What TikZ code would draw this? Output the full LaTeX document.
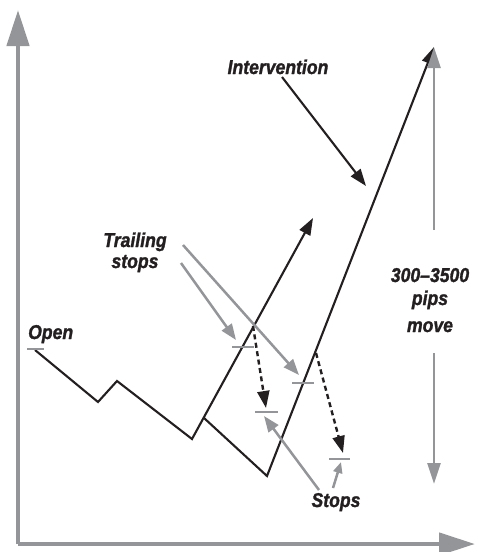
\documentclass[tikz,border=0pt]{standalone}
\usepackage{fontspec}
\setmainfont{Liberation Sans}[FakeStretch=0.88, BoldItalicFeatures={FakeBold=1.4}]
\usetikzlibrary{arrows.meta}
\definecolor{axgray}{HTML}{939598}
\definecolor{ink}{HTML}{231F20}
\begin{document}
\begin{tikzpicture}[x=1pt,y=-1pt,
  lbl/.style={font=\fontsize{20}{24}\selectfont\bfseries\itshape, inner sep=0pt, anchor=base, text=ink},
  axis/.style={draw=axgray, line width=4.5pt, -{Triangle[length=36pt,width=22pt]}},
  price/.style={draw=ink, line width=2.1pt, line join=miter},
  blkarrow/.style={price, -{Triangle[length=17pt,width=12pt]}},
  dasharrow/.style={draw=ink, line width=2.4pt, dash pattern=on 5pt off 3.5pt, -{Triangle[length=17pt,width=12pt]}},
  grayarrow/.style={draw=axgray, line width=2.5pt, -{Triangle[length=16pt,width=12pt]}},
  rangearrow/.style={draw=axgray, line width=2.6pt, -{Triangle[length=21pt,width=13pt]}},
  tick/.style={draw=axgray, line width=2.8pt}
]
\useasboundingbox (0,0) rectangle (477,552);

% axes
\coordinate (origin) at (18,544);
\coordinate (ytop) at (18,10);
\coordinate (xend) at (475,544);
\draw[axis] (origin) -- (ytop);
\draw[axis] (origin) -- (xend);

% price path 1
\coordinate (p0) at (35,350);
\coordinate (p1) at (98,402);
\coordinate (p2) at (117,381);
\coordinate (p3) at (192,439);
\coordinate (p4) at (204,418);
\coordinate (p5) at (313,218);
\draw[blkarrow] (p0) -- (p1) -- (p2) -- (p3) -- (p5);

% price path 2
\coordinate (q1) at (267,476);
\coordinate (q2) at (434,47);
\draw[blkarrow] (p4) -- (q1) -- (q2);

% range arrows
\coordinate (rup0) at (434,230);
\coordinate (rup1) at (434,47);
\coordinate (rdn0) at (434,353);
\coordinate (rdn1) at (434,484);
\draw[rangearrow] (rup0) -- (rup1);
\draw[rangearrow] (rdn0) -- (rdn1);

% ticks
\draw[tick] (27,349) coordinate (o0) -- (44,349) coordinate (o1);
\draw[tick] (232,347) coordinate (t1a) -- (254,347) coordinate (t1b);
\draw[tick] (292,383) coordinate (t2a) -- (314,383) coordinate (t2b);
\draw[tick] (255,412) coordinate (t3a) -- (278,412) coordinate (t3b);
\draw[tick] (329,459) coordinate (t4a) -- (350,459) coordinate (t4b);

% dashed stop moves
\coordinate (d1a) at (253,326);
\coordinate (d1b) at (266,408);
\coordinate (d2a) at (316,353);
\coordinate (d2b) at (343,453);
\draw[dasharrow] (d1a) -- (d1b);
\draw[dasharrow] (d2a) -- (d2b);

% labels
\node[lbl] (intervention) at (278,74) {Intervention};
\node[lbl] (trailing) at (135,247) {Trailing};
\node[lbl] (stops1) at (135,268) {stops};
\node[lbl, anchor=base west] (open) at (28,339) {Open};
\node[lbl] (range1) at (430,282) {300–3500};
\node[lbl] (range2) at (430,305) {pips};
\node[lbl] (range3) at (430,332) {move};
\node[lbl] (stops2) at (336,507) {Stops};

% intervention arrow
\coordinate (i0) at (282,77);
\coordinate (i1) at (366,186);
\draw[blkarrow] (i0) -- (i1);

% trailing stop arrows
\coordinate (ta0) at (181,263);
\coordinate (ta1) at (236,340);
\coordinate (tb0) at (183,245);
\coordinate (tb1) at (299,375);
\draw[grayarrow] (ta0) -- (ta1);
\draw[grayarrow] (tb0) -- (tb1);

% stops arrows
\coordinate (s0) at (319,490);
\coordinate (s1) at (264,416);
\coordinate (s2) at (333,488);
\coordinate (s3) at (341,462);
\draw[grayarrow] (s0) -- (s1);
\draw[draw=axgray, line width=2.5pt, -{Triangle[length=11pt,width=9pt]}] (s2) -- (s3);
\end{tikzpicture}
\end{document}
